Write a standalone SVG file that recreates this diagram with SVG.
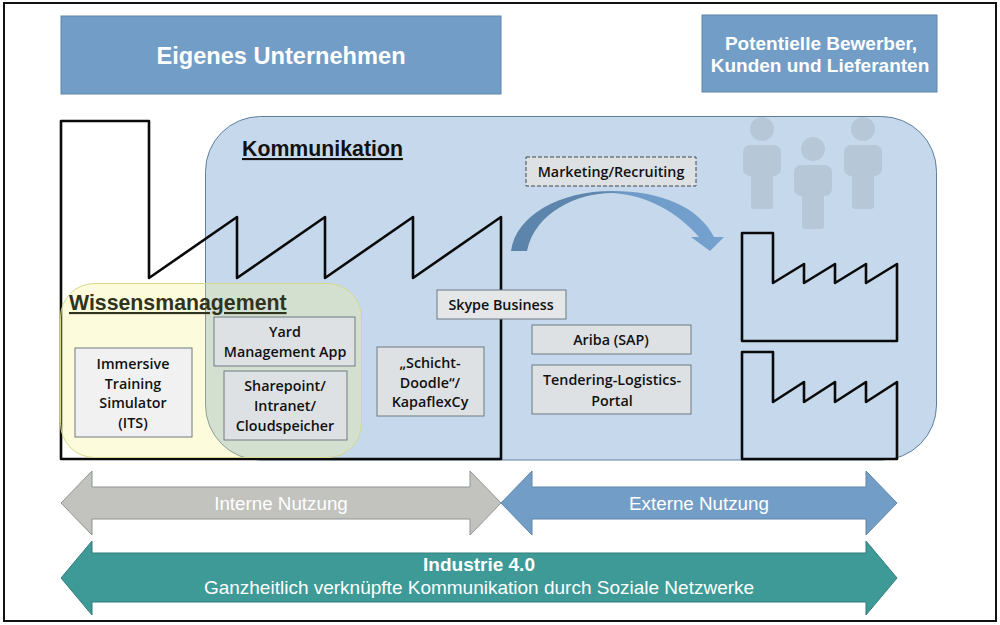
<svg xmlns="http://www.w3.org/2000/svg" width="1000" height="625" viewBox="0 0 1000 625">
<style>
.hdr{fill:#729dc6;stroke:#5f86aa;stroke-width:1}
.hdrt{font-family:"Liberation Sans",Arial,sans-serif;font-weight:700;fill:#fff;text-anchor:middle}
.fac{fill:none;stroke:#0a0a0a;stroke-width:2.6;stroke-linejoin:round}
.box{fill:#dde1e4;stroke:#6f7a82;stroke-width:1}
.boxl{fill:#f1f1f1;stroke:#6f7a82;stroke-width:1}
.bt{font-family:"Open Sans","Noto Sans",sans-serif;font-weight:600;font-size:14.300px;fill:#111;text-anchor:middle}
.ttl{font-family:"Liberation Sans",Arial,sans-serif;font-weight:700;font-size:21.300px;text-decoration:underline}
.aw{font-family:"Liberation Sans",Arial,sans-serif;font-size:18.800px;fill:#fff;text-anchor:middle}
.p{fill:#aebfce;opacity:.65}
</style>
<defs>
<linearGradient id="cg" x1="0" x2="1" y1="0" y2="0"><stop offset="0" stop-color="#5c84aa"/><stop offset=".42" stop-color="#5f87ae"/><stop offset=".55" stop-color="#6f9bc8"/><stop offset="1" stop-color="#74a1cf"/></linearGradient>
<g id="person"><circle cx="0" cy="0" r="12"/><rect x="-19" y="16" width="38" height="31" rx="7"/><rect x="-11" y="40" width="22" height="40" rx="3"/></g>
</defs>
<rect x="4" y="3" width="992" height="618" fill="#fff" stroke="#111" stroke-width="2"/>
<g id="header-own"><rect class="hdr" x="61" y="16" width="440" height="78"/><text class="hdrt" x="281" y="64" font-size="23.600">Eigenes Unternehmen</text></g>
<g id="header-ext"><rect class="hdr" x="702" y="15" width="235" height="77"/><text class="hdrt" x="821" y="50" font-size="19">Potentielle Bewerber,</text><text class="hdrt" x="820" y="72" font-size="19">Kunden und Lieferanten</text></g>
<g id="kommunikation"><rect x="205.500" y="116.500" width="731" height="343.500" rx="55" fill="#a3c1e0" fill-opacity=".62" stroke="#5e7f9c" stroke-width="1"/>
<text class="ttl" x="242" y="156" fill="#111">Kommunikation</text></g>
<g id="factory-main"><path class="fac" d="M61 121H149V278L237 217V278L325 217V278L413 217V278L501 217V459H61Z"/></g>
<g id="wissensmanagement"><rect x="60.500" y="283.500" width="301" height="174" rx="34" fill="#f5f28a" fill-opacity=".3" stroke="#d5d88a" stroke-width="1"/>
<text class="ttl" x="69" y="310" fill="#2f3320">Wissensmanagement</text></g>
<g id="factory-top"><path class="fac" d="M742 233H773V283L804 264V283L835 264V283L866 264V283L897 264V341H742Z"/></g>
<g id="factory-bottom"><path class="fac" d="M742 352H773V402L804 382V402L835 382V402L866 382V402L897 382V459H742Z"/></g>
<g id="people" class="p"><use href="#person" x="762" y="129"/><use href="#person" x="813" y="149"/><use href="#person" x="863" y="129"/></g>
<g id="connectors"><path d="M511 251C516 215 560 191 612 191C660 191 698 206 714 237H724L710 251L691 237H699C678 213 648 195 612 193C578 193 535 212 527 251Z" fill="url(#cg)"/></g>
<g id="immersive"><rect class="boxl" x="75" y="348" width="117" height="89"/><text class="bt" x="133" y="369">Immersive</text><text class="bt" x="133" y="389">Training</text><text class="bt" x="133" y="408">Simulator</text><text class="bt" x="133" y="428">(ITS)</text></g>
<g id="yard"><rect class="box" x="214" y="317" width="141" height="49"/><text class="bt" x="285" y="337">Yard</text><text class="bt" x="285" y="357">Management App</text></g>
<g id="sharepoint"><rect class="box" x="224" y="371" width="123" height="69"/><text class="bt" x="285" y="391">Sharepoint/</text><text class="bt" x="285" y="411">Intranet/</text><text class="bt" x="285" y="431">Cloudspeicher</text></g>
<g id="schicht"><rect class="box" x="377" y="347" width="107" height="69"/><text class="bt" x="430" y="368">„Schicht-</text><text class="bt" x="430" y="388">Doodle“/</text><text class="bt" x="430" y="407">KapaflexCy</text></g>
<g id="skype"><rect class="box" x="437" y="290" width="129" height="29" style="fill:#e4e6e8"/><text class="bt" x="501" y="310">Skype Business</text></g>
<g id="ariba"><rect class="box" x="532" y="325" width="159" height="29"/><text class="bt" x="611" y="345">Ariba (SAP)</text></g>
<g id="tendering"><rect class="box" x="532" y="365" width="159" height="49"/><text class="bt" x="612" y="385">Tendering-Logistics-</text><text class="bt" x="612" y="406">Portal</text></g>
<g id="marketing"><rect class="box" x="526" y="157" width="170" height="29" style="stroke:#444;stroke-dasharray:4 2"/><text class="bt" x="611" y="177">Marketing/Recruiting</text></g>
<g id="arrow-intern"><path d="M61 503L92 471V487H470V471L501 503L470 535V519H92V535Z" fill="#c2c3be" stroke="#8d9490" stroke-width="1"/><text class="aw" x="281" y="510">Interne Nutzung</text></g>
<g id="arrow-extern"><path d="M501 503L532 471V487H866V471L897 503L866 535V519H532V535Z" fill="#729dc6" stroke="#5f86aa" stroke-width="1"/><text class="aw" x="699" y="510">Externe Nutzung</text></g>
<g id="arrow-industrie"><path d="M61 578L92 541V553H866V541L897 578L866 615V602H92V615Z" fill="#3d9a97" stroke="#2f7d7b" stroke-width="1"/><text class="aw" x="479" y="571" font-weight="700" style="font-size:19px">Industrie 4.0</text><text class="aw" x="479" y="594" style="font-size:19px">Ganzheitlich verknüpfte Kommunikation durch Soziale Netzwerke</text></g>
</svg>
